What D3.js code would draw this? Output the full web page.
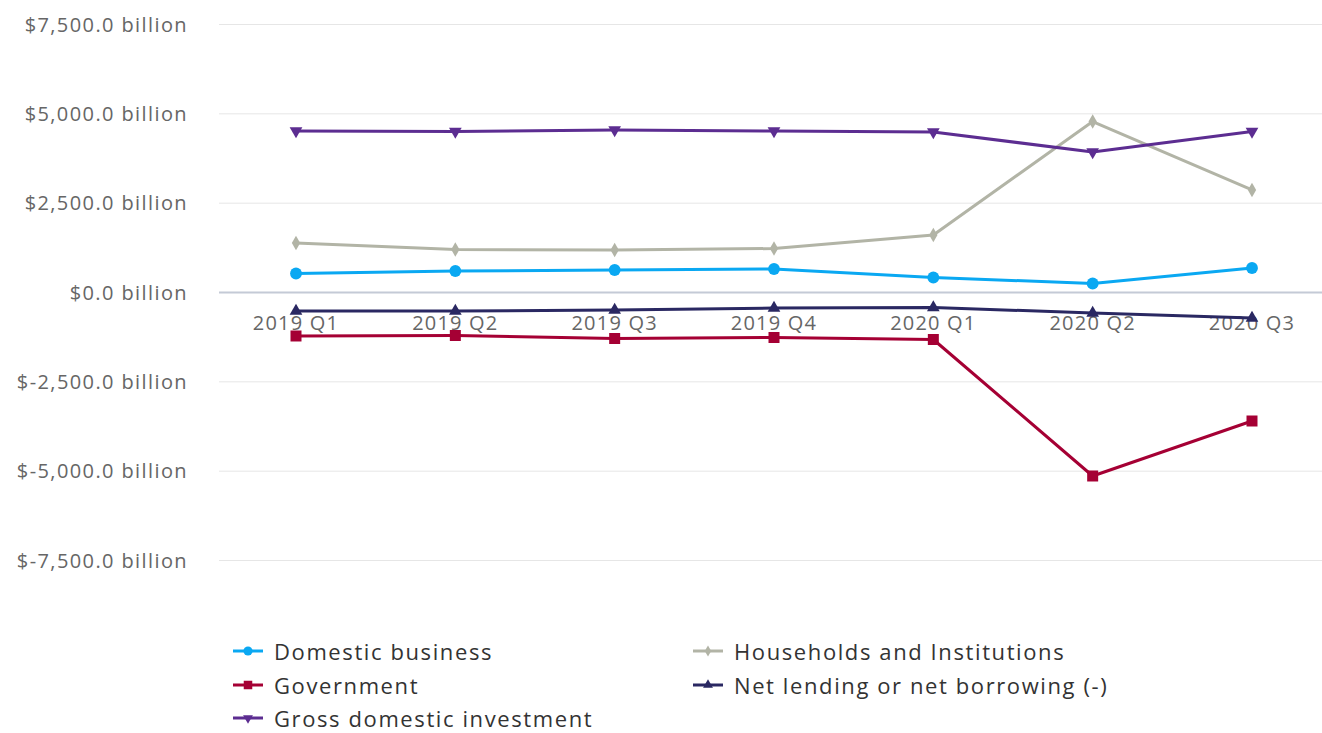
<!DOCTYPE html>
<html>
<head>
<meta charset="utf-8">
<script src="https://cdn.jsdelivr.net/npm/d3@7"></script>
<style>
  body { margin: 0; background: #fff; }
  svg { display: block; font-family: "Open Sans", sans-serif; }
</style>
</head>
<body>
<div id="chart"></div>
<script>
const quarters = ["2019 Q1", "2019 Q2", "2019 Q3", "2019 Q4", "2020 Q1", "2020 Q2", "2020 Q3"];

// billions of dollars
const domesticBusiness = [518, 588, 616, 644, 406, 238, 672];
const households = [1371, 1189, 1175, 1217, 1595, 4771, 2855];
const government = [-1231, -1217, -1301, -1273, -1329, -5149, -3610];
const netLending = [-532, -532, -504, -448, -434, -588, -728];
const grossInvestment = [4506, 4492, 4534, 4506, 4478, 3918, 4492];

const yTicks = [7500, 5000, 2500, 0, -2500, -5000, -7500];

const series = [
  { name: "Domestic business", values: domesticBusiness, color: "#0aa8f2", symbol: d3.symbolCircle, size: 110 },
  { name: "Households and Institutions", values: households, color: "#b2b4a6", symbol: d3.symbolDiamond, size: 60 },
  { name: "Government", values: government, color: "#a50034", symbol: d3.symbolSquare, size: 121 },
  { name: "Net lending or net borrowing (-)", values: netLending, color: "#2a2862", symbol: d3.symbolTriangle, size: 70 },
  { name: "Gross domestic investment", values: grossInvestment, color: "#5c2d91", symbol: d3.symbolTriangle, size: 70, flip: true }
];

const width = 1322, height = 733;

const svg = d3.select("#chart")
  .append("svg")
  .attr("width", width)
  .attr("height", height);

const x = d3.scalePoint()
  .domain(quarters)
  .range([296, 1252]);

const y = d3.scaleLinear()
  .domain([-7500, 7500])
  .range([560, 24]);

// grid
svg.append("g")
  .selectAll("line")
  .data(yTicks)
  .enter()
  .append("line")
  .attr("x1", 219)
  .attr("x2", width)
  .attr("y1", d => y(d) + 0.5)
  .attr("y2", d => y(d) + 0.5)
  .style("stroke", "#e6e6e6")
  .style("stroke-width", 1);

// zero line
svg.append("line")
  .attr("x1", 219)
  .attr("x2", width)
  .attr("y1", y(0) + 0.5)
  .attr("y2", y(0) + 0.5)
  .style("stroke", "#c4cad6")
  .style("stroke-width", 2);

const fmt = d3.format(",.1f");

svg.append("g")
  .selectAll("text")
  .data(yTicks)
  .enter()
  .append("text")
  .attr("x", 188)
  .attr("y", d => y(d))
  .attr("text-anchor", "end")
  .attr("dominant-baseline", "central")
  .style("font-size", "20px")
  .style("letter-spacing", "1.4px")
  .style("fill", "#666")
  .text(d => "$" + fmt(d).replace("−", "-") + " billion");

// x labels
svg.append("g")
  .selectAll("text")
  .data(quarters)
  .enter()
  .append("text")
  .attr("x", d => x(d))
  .attr("y", 330)
  .attr("text-anchor", "middle")
  .style("font-size", "20px")
  .style("letter-spacing", "1.2px")
  .style("fill", "#666")
  .text(d => d);

const line = d3.line()
  .x((d, i) => x(quarters[i]))
  .y(d => y(d));

const groups = svg.selectAll(".series")
  .data(series)
  .enter()
  .append("g")
  .attr("class", "series");

groups.append("path")
  .attr("d", d => line(d.values))
  .style("fill", "none")
  .style("stroke", d => d.color)
  .style("stroke-width", 3)
  .style("stroke-linejoin", "round");

groups.each(function(s) {
  d3.select(this).selectAll(".pt")
    .data(s.values)
    .enter()
    .append("path")
    .attr("class", "pt")
    .attr("d", d3.symbol().type(s.symbol).size(s.size))
    .attr("transform", (d, i) => `translate(${x(quarters[i])},${y(d)})` + (s.flip ? " rotate(180)" : ""))
    .style("fill", s.color);
});

// legend
const legendPos = [[233, 651], [693, 651], [233, 685], [693, 685], [233, 718]];
const legend = svg.selectAll(".legend")
  .data(series)
  .enter()
  .append("g")
  .attr("class", "legend")
  .attr("transform", (d, i) => `translate(${legendPos[i][0]},${legendPos[i][1]})`);

legend.append("line")
  .attr("x1", 0)
  .attr("x2", 30)
  .style("stroke", d => d.color)
  .style("stroke-width", 3);

legend.append("path")
  .attr("d", d => d3.symbol().type(d.symbol).size(d.size * 0.6)())
  .attr("transform", d => "translate(15,0)" + (d.flip ? " rotate(180)" : ""))
  .style("fill", d => d.color);

legend.append("text")
  .attr("x", 41)
  .attr("dominant-baseline", "central")
  .style("font-size", "22px")
  .style("letter-spacing", "1.6px")
  .style("fill", "#333")
  .text(d => d.name);
</script>
</body>
</html>
